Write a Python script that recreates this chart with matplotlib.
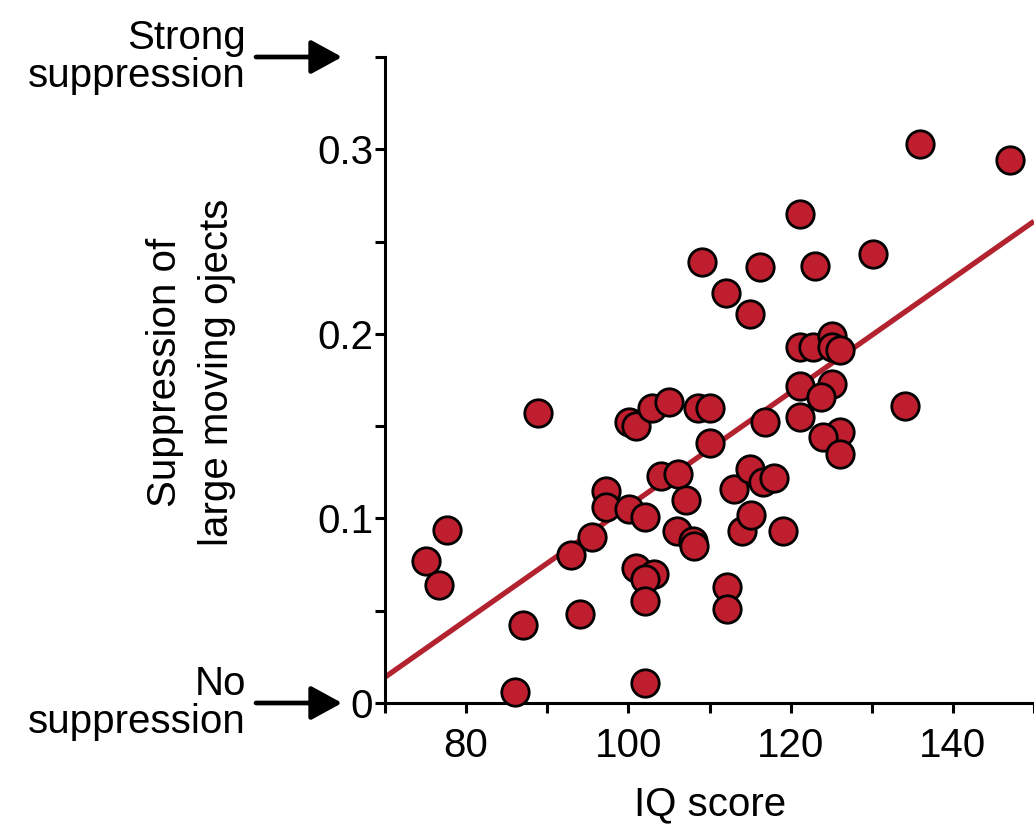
import matplotlib
matplotlib.use("Agg")
import matplotlib.pyplot as plt
import numpy as np

plt.rcParams['font.family'] = ['Liberation Sans', 'DejaVu Sans']

# IQ score vs suppression index
iq = [75.0, 76.7, 77.6, 86.0, 87.0, 88.8, 92.9, 94.0, 95.5, 97.2,
      97.3, 100.1, 100.9, 100.1, 102.1, 100.9, 103.2, 102.0, 102.0, 102.0,
      102.9, 105.0, 104.0, 106.1, 107.1, 106.0, 108.0, 108.1, 108.6, 110.1,
      110.0, 109.1, 112.0, 112.1, 112.1, 113.0, 114.0, 115.1, 115.0, 116.6,
      118.0, 119.0, 115.0, 116.2, 116.9, 121.1, 121.1, 122.8, 125.1, 125.1,
      126.1, 121.1, 125.1, 123.7, 121.1, 126.1, 124.0, 126.1, 123.0, 130.1,
      134.1, 136.0, 147.0]
suppression = [0.077, 0.064, 0.094, 0.006, 0.042, 0.157, 0.080, 0.048, 0.090, 0.115,
               0.106, 0.152, 0.150, 0.105, 0.101, 0.073, 0.070, 0.067, 0.055, 0.011,
               0.160, 0.163, 0.123, 0.124, 0.110, 0.093, 0.088, 0.085, 0.160, 0.160,
               0.141, 0.239, 0.222, 0.063, 0.051, 0.116, 0.093, 0.102, 0.127, 0.120,
               0.122, 0.093, 0.211, 0.236, 0.152, 0.265, 0.193, 0.193, 0.199, 0.193,
               0.191, 0.172, 0.173, 0.166, 0.155, 0.147, 0.144, 0.135, 0.237, 0.243,
               0.161, 0.303, 0.294]

# regression line end points
fit_x = [70, 150]
fit_y = [0.014, 0.261]

xticks = list(range(70, 151, 10))
xticklabels = ['' if (t % 20 or t == 70) else str(t) for t in xticks]
yticks = [0, 0.05, 0.1, 0.15, 0.2, 0.25, 0.3, 0.35]
yticklabels = ['0', '', '0.1', '', '0.2', '', '0.3', '']

red = '#BE1E2D'
fs = 29

fig = plt.figure(figsize=(10.34, 8.25), dpi=100)
ax = fig.add_axes([385 / 1034, 1 - 703 / 825, 649 / 1034, 646 / 825])

ax.plot(fit_x, fit_y, color='#B3222F', lw=3.8, zorder=2, solid_capstyle='butt')
ax.scatter(iq, suppression, s=390, c=red, edgecolors='black', linewidths=2, zorder=3,
           clip_on=False)

ax.set_xlim(70, 150)
ax.set_ylim(0, 0.35)
ax.set_xticks(xticks)
ax.set_xticklabels(xticklabels)
ax.set_yticks(yticks)
ax.set_yticklabels(yticklabels)

for side in ['top', 'right']:
    ax.spines[side].set_visible(False)
for side in ['left', 'bottom']:
    ax.spines[side].set_linewidth(2.2)
ax.tick_params(direction='out', length=7, width=2.2, labelsize=fs)
ax.tick_params(axis='x', pad=10)
ax.tick_params(axis='y', pad=1.5)

fig.text(710 / 1034, 1 - 815 / 825, 'IQ score', ha='center', va='baseline', fontsize=fs)
fig.text(191 / 1034, 1 - 372 / 825, 'Suppression of\nlarge moving ojects', rotation=90,
         ha='center', va='center', multialignment='center', fontsize=fs, linespacing=1.5)

# arrows marking both ends of the scale
for label, yv in [('Strong\nsuppression', 0.35), ('No\nsuppression', 0.0)]:
    yf = 1 - (703 - yv / 0.35 * 646) / 825
    ax.annotate('', xy=(342 / 1034, yf), xytext=(256 / 1034, yf),
                xycoords='figure fraction', textcoords='figure fraction',
                arrowprops=dict(arrowstyle='-|>,head_length=0.95,head_width=0.52',
                                mutation_scale=20, color='black', lw=3.4,
                                shrinkA=0, shrinkB=0))
    fig.text(246 / 1034, yf, label, ha='right', va='center', fontsize=fs,
             linespacing=1.03)

fig.savefig('out.png', dpi=100)
